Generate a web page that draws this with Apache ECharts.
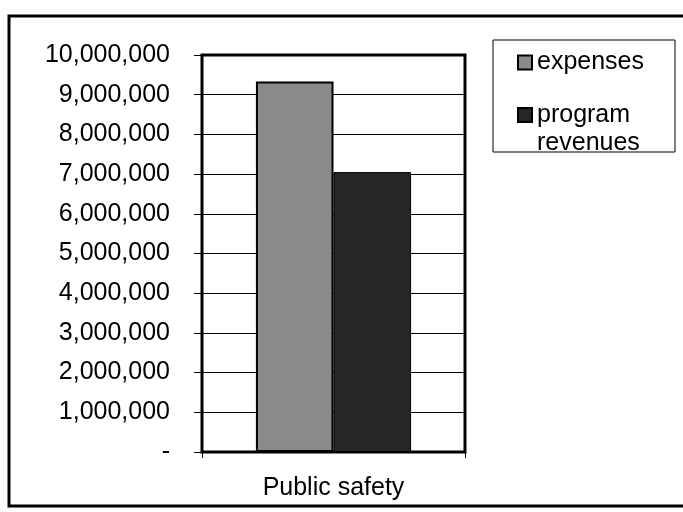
<!DOCTYPE html>
<html><head><meta charset="utf-8">
<script src="https://cdn.jsdelivr.net/npm/echarts@6/dist/echarts.min.js"></script>
<style>html,body{margin:0;padding:0;background:#fff}#c{width:683px;height:512px}</style>
</head><body><div id="c"></div>
<script>
const categories = ['Public safety'];
const seriesNames = ['expenses', 'program revenues'];
const expenses = [9330000];
const programRevenues = [7050000];
const yMin = 0, yMax = 10000000, yStep = 1000000;

const chart = echarts.init(document.getElementById('c'));
const font = 'Liberation Sans, Arial, sans-serif';
const richLine = {fontFamily: font, fontSize: 25, lineHeight: 28, color: '#000'};
chart.setOption({
  animation: false,
  backgroundColor: '#fff',
  graphic: [
    {type: 'rect', shape: {x: 9, y: 16, width: 700, height: 490}, style: {fill: 'none', stroke: '#000', lineWidth: 3}, z: 0},
    {type: 'rect', shape: {x: 493, y: 40, width: 182, height: 112}, style: {fill: '#fff', stroke: '#000', lineWidth: 1}, z: 0}
  ],
  grid: {left: 202, right: 218, top: 55, bottom: 60, show: true, borderColor: '#000', borderWidth: 3, backgroundColor: '#fff'},
  legend: {
    orient: 'vertical', left: 512, top: 45, itemWidth: 14, itemHeight: 14, itemGap: -2,
    icon: 'rect',
    textStyle: {fontFamily: font, fontSize: 25, color: '#000', lineHeight: 24},
    formatter: n => n.indexOf(' ') > 0 ? '{a|' + n.split(' ')[0] + '}\n{a|' + n.split(' ')[1] + '}' : n,
    data: [
      {name: seriesNames[0]},
      {name: seriesNames[1], textStyle: {padding: [28, 0, 0, 0], rich: {a: richLine}}}
    ]
  },
  xAxis: {
    type: 'category', data: categories,
    axisLine: {show: true, lineStyle: {color: '#000', width: 2}},
    axisTick: {show: true, length: 6, lineStyle: {color: '#000'}},
    axisLabel: {fontFamily: font, fontSize: 25, color: '#000', margin: 24}
  },
  yAxis: {
    type: 'value', min: yMin, max: yMax, interval: yStep,
    axisLine: {show: true, lineStyle: {color: '#000', width: 2}},
    axisTick: {show: true, inside: false, length: 8, lineStyle: {color: '#000'}},
    splitLine: {lineStyle: {color: '#000', width: 1}},
    axisLabel: {fontFamily: font, fontSize: 25, color: '#000', margin: 32,
      formatter: v => v === 0 ? '-' : v.toLocaleString('en-US')}
  },
  series: [
    {name: seriesNames[0], type: 'bar', data: expenses, barGap: '0%', barCategoryGap: '41%',
      itemStyle: {color: '#8a8a8a', borderColor: '#000', borderWidth: 2}},
    {name: seriesNames[1], type: 'bar', data: programRevenues,
      itemStyle: {color: '#262626', borderColor: '#000', borderWidth: 1}}
  ]
});
</script></body></html>
